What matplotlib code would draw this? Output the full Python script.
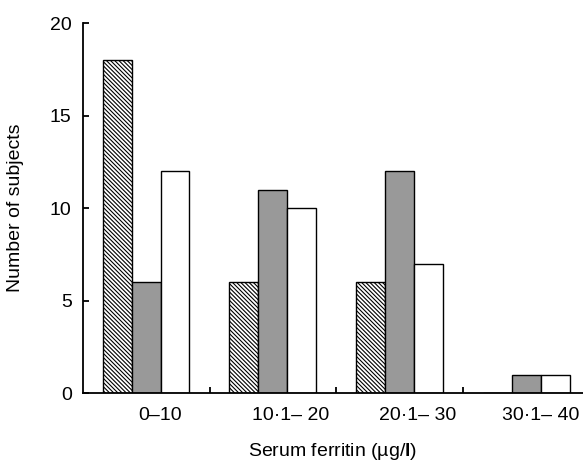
import matplotlib
matplotlib.use('Agg')
import matplotlib.pyplot as plt
import numpy as np

plt.rcParams['font.family'] = ['Liberation Sans', 'DejaVu Sans']
plt.rcParams['mathtext.fontset'] = 'custom'
plt.rcParams['mathtext.rm'] = 'Liberation Sans'
plt.rcParams['mathtext.bf'] = 'Liberation Sans:bold'
plt.rcParams['hatch.linewidth'] = 0.8

# groups of serum ferritin
groups = ['0\u201310', '10\u00b71\u2013 20', '20\u00b71\u2013 30', '30\u00b71\u2013 40']
hatched = [18, 6, 6, 0]
grey = [6, 11, 12, 1]
white = [12, 10, 7, 1]

fig = plt.figure(figsize=(5.83, 4.61), dpi=100)
ax = fig.add_axes([0.142, 0.1475, 0.858, 0.8025])

idx = np.arange(len(groups))
w = 0.228
off = 0.157
ax.bar(idx + off, hatched, width=w, align='edge', color='white', edgecolor='black',
       linewidth=1.0, hatch='\\' * 8)
ax.bar(idx + off + w, grey, width=w, align='edge', color='#999999', edgecolor='black', linewidth=1.0)
ax.bar(idx + off + 2 * w, white, width=w, align='edge', color='white', edgecolor='black', linewidth=1.0)

ax.set_xlim(0, 3.945)
ax.set_ylim(0, 20)
ax.spines['top'].set_visible(False)
ax.spines['right'].set_visible(False)
ax.spines['left'].set_linewidth(1.3)
ax.spines['bottom'].set_linewidth(1.3)

ax.set_yticks([0, 5, 10, 15, 20])
ax.tick_params(axis='y', direction='in', length=4, width=1.3, pad=8, labelsize=14)

ax.set_xticks([0.61, 1.64, 2.64, 3.61])
ax.set_xticklabels(groups)
ax.set_xticks([1, 2, 3], minor=True)
ax.tick_params(axis='x', which='major', length=0, pad=10, labelsize=14)
ax.tick_params(axis='x', which='minor', direction='in', length=4, width=1.3)

ax.set_xlabel('Serum ferritin (\u00b5g/$\\mathbf{l}$)', fontsize=14)
ax.xaxis.set_label_coords(0.5, -0.13)
ax.set_ylabel('Number of subjects', fontsize=14)
ax.yaxis.set_label_coords(-0.118, 0.5)

fig.savefig('out.png', dpi=100)
